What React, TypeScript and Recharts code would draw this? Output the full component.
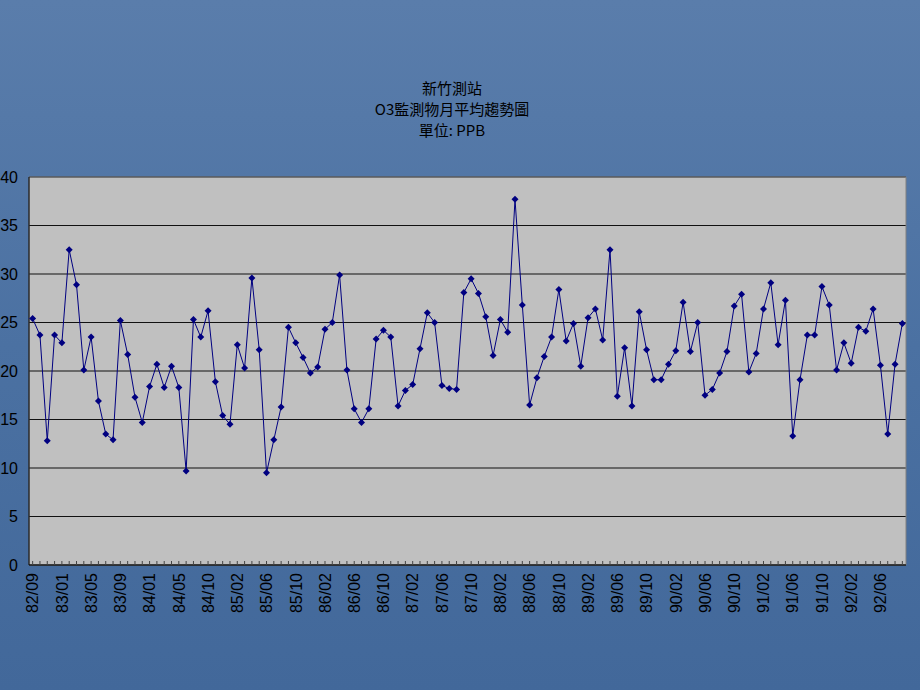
import React from "react";
import {
  LineChart,
  Line,
  CartesianGrid,
  XAxis,
  YAxis,
  ReferenceArea,
} from "recharts";

// monthly categories (民國年/月), one month missing in 84
const months82 = ["82/09", "82/10", "82/11", "82/12"];
const months83 = ["83/01", "83/02", "83/03", "83/04", "83/05", "83/06", "83/07", "83/08", "83/09", "83/10", "83/11", "83/12"];
const months84 = ["84/01", "84/02", "84/03", "84/04", "84/05", "84/06", "84/08", "84/09", "84/10", "84/11", "84/12"];
const months85 = ["85/01", "85/02", "85/03", "85/04", "85/05", "85/06", "85/07", "85/08", "85/09", "85/10", "85/11", "85/12"];
const months86 = ["86/01", "86/02", "86/03", "86/04", "86/05", "86/06", "86/07", "86/08", "86/09", "86/10", "86/11", "86/12"];
const months87 = ["87/01", "87/02", "87/03", "87/04", "87/05", "87/06", "87/07", "87/08", "87/09", "87/10", "87/11", "87/12"];
const months88 = ["88/01", "88/02", "88/03", "88/04", "88/05", "88/06", "88/07", "88/08", "88/09", "88/10", "88/11", "88/12"];
const months89 = ["89/01", "89/02", "89/03", "89/04", "89/05", "89/06", "89/07", "89/08", "89/09", "89/10", "89/11", "89/12"];
const months90 = ["90/01", "90/02", "90/03", "90/04", "90/05", "90/06", "90/07", "90/08", "90/09", "90/10", "90/11", "90/12"];
const months91 = ["91/01", "91/02", "91/03", "91/04", "91/05", "91/06", "91/07", "91/08", "91/09", "91/10", "91/11", "91/12"];
const months92 = ["92/01", "92/02", "92/03", "92/04", "92/05", "92/06", "92/07", "92/08", "92/09"];

const months = [
  ...months82, ...months83, ...months84, ...months85, ...months86, ...months87,
  ...months88, ...months89, ...months90, ...months91, ...months92,
];

// O3 monthly mean, ppb
const o3Values = [
  25.4, 23.7, 12.8, 23.7, 22.9, 32.5, 28.9, 20.1, 23.5, 16.9, 13.5, 12.9,
  25.2, 21.7, 17.3, 14.7, 18.4, 20.7, 18.3, 20.5, 18.3, 9.7, 25.3, 23.5,
  26.2, 18.9, 15.4, 14.5, 22.7, 20.3, 29.6, 22.2, 9.5, 12.9, 16.3, 24.5,
  22.9, 21.4, 19.8, 20.4, 24.3, 25.0, 29.9, 20.1, 16.1, 14.7, 16.1, 23.3,
  24.2, 23.5, 16.4, 18.0, 18.6, 22.3, 26.0, 25.0, 18.5, 18.2, 18.1, 28.1,
  29.5, 28.0, 25.6, 21.6, 25.3, 24.0, 37.7, 26.8, 16.5, 19.3, 21.5, 23.5,
  28.4, 23.1, 24.9, 20.5, 25.5, 26.4, 23.2, 32.5, 17.4, 22.4, 16.4, 26.1,
  22.2, 19.1, 19.1, 20.7, 22.1, 27.1, 22.0, 25.0, 17.5, 18.1, 19.8, 22.0,
  26.7, 27.9, 19.9, 21.8, 26.4, 29.1, 22.7, 27.3, 13.3, 19.1, 23.7, 23.7,
  28.7, 26.8, 20.1, 22.9, 20.8, 24.5, 24.1, 26.4, 20.6, 13.5, 20.7, 24.9,
];

const yTicks = [0, 5, 10, 15, 20, 25, 30, 35, 40];
const titleLines = ["新竹測站", "O3監測物月平均趨勢圖", "單位: PPB"];

const data = months.map((m, i) => ({ month: m, o3: o3Values[i] }));

const NAVY = "#000080";

function Diamond(props: any) {
  const { cx, cy, index } = props;
  if (cx == null || cy == null) return null;
  const r = 3.5;
  return (
    <path
      key={`d-${index}`}
      d={`M${cx},${cy - r}L${cx + r},${cy}L${cx},${cy + r}L${cx - r},${cy}Z`}
      fill={NAVY}
      stroke="none"
    />
  );
}

function MonthTick(props: any) {
  const { x, payload, index } = props;
  const i = payload?.index ?? index;
  if (i % 4 !== 0) return <g />;
  return (
    <text
      transform={`translate(${x},573) rotate(-90)`}
      textAnchor="end"
      dy="0.36em"
      fontSize={16}
      fontFamily="'Liberation Sans', Arial, sans-serif"
      fill="#000"
    >
      {payload.value}
    </text>
  );
}

export default function App() {
  return (
    <div
      style={{
        position: "absolute",
        left: 0,
        top: 0,
        width: 920,
        height: 690,
        overflow: "hidden",
        background: "linear-gradient(180deg, #5a7dab 0%, #4b71a2 50%, #42689a 100%)",
      }}
    >
      <div
        style={{
          position: "absolute",
          left: 302,
          top: 77,
          width: 300,
          textAlign: "center",
          fontFamily: "'Noto Sans CJK TC', sans-serif",
          fontSize: 15,
          lineHeight: "21px",
          color: "#000",
        }}
      >
        {titleLines.map((t) => (
          <div key={t}>{t}</div>
        ))}
      </div>
      <LineChart
        width={920}
        height={690}
        data={data}
        margin={{ top: 177, right: 14, left: 0, bottom: 0 }}
      >
        <CartesianGrid vertical={false} stroke="#111" fill="#c0c0c0" fillOpacity={1} />
        <ReferenceArea y1={0} y2={40} fill="none" stroke="#808080" ifOverflow="visible" />
        <XAxis
          dataKey="month"
          scale="band"
          interval={0}
          height={125}
          tickSize={-4}
          tickMargin={0}
          tick={<MonthTick />}
          axisLine={{ stroke: "#000" }}
          tickLine={{ stroke: "#444" }}
        />
        <YAxis
          width={29}
          domain={[0, 40]}
          ticks={yTicks}
          interval={0}
          tickLine={false}
          tickSize={6}
          tickMargin={5}
          axisLine={{ stroke: "#000" }}
          tick={{ fill: "#000", fontSize: 16, fontFamily: "'Liberation Sans', Arial, sans-serif" }}
        />
        <Line
          type="linear"
          dataKey="o3"
          stroke={NAVY}
          strokeWidth={1}
          dot={<Diamond />}
          activeDot={false}
          isAnimationActive={false}
        />
      </LineChart>
    </div>
  );
}
